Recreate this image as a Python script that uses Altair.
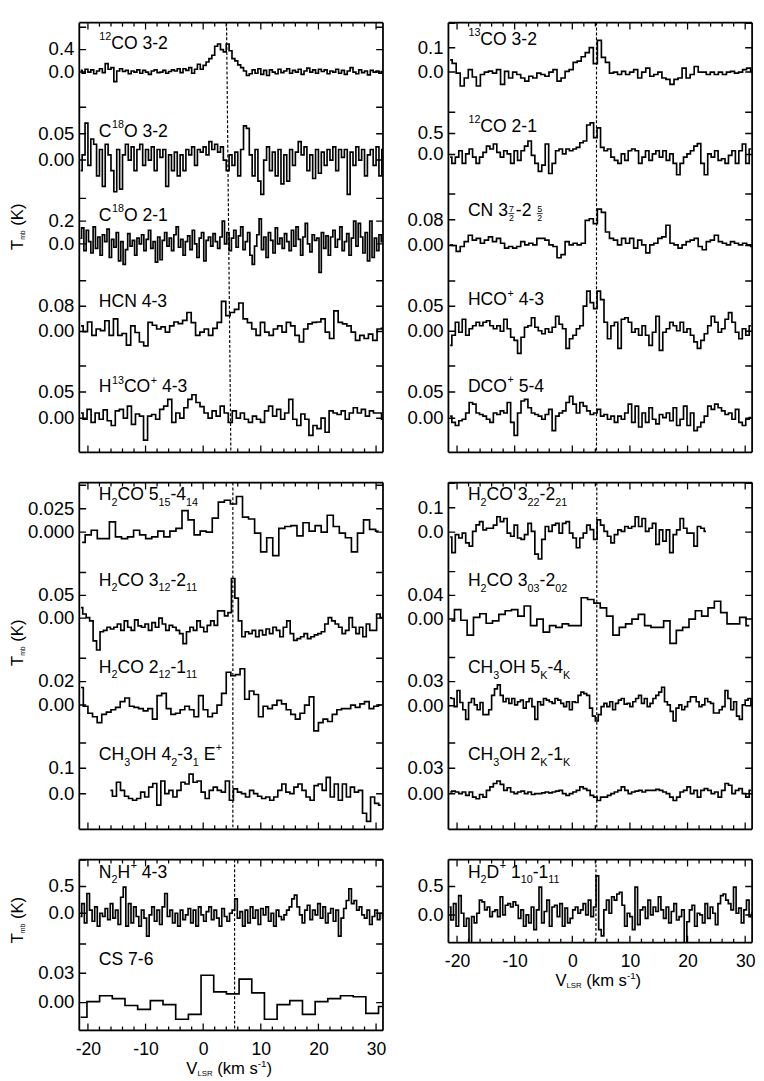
import altair as alt
import pandas as pd

FONT = "Liberation Sans"
XDOM = [-21.5, 31.2]
W = 311
TICK = 7

# ------------------------------------------------------------------ data
# each spectrum: first channel velocity (km/s), channel width (km/s), Tmb values (K)
CO12_32 = dict(v0=-21.25, dv=0.5, vals=[
    0.03, -0.02, 0.05, 0.0, 0.04, -0.03, 0.02, 0.06, -0.01,
    0.15, 0.05, 0.08, -0.17, 0.02, 0.06, 0.01, 0.03, -0.03, 0.02, 0.0, 0.04, -0.02, 0.03, 0.0,
    -0.04, 0.02, 0.04, -0.01, 0.0, 0.03, -0.02, 0.01, 0.04, 0.02, 0.06, -0.01, 0.06, 0.03, 0.08,
    -0.02, 0.05, 0.14, 0.05, 0.12, 0.18, 0.24, 0.3, 0.46, 0.5, 0.4, 0.36, 0.5, 0.38, 0.24, 0.2,
    0.13, 0.08, 0.02, -0.06, -0.03, 0.04, -0.02, 0.06, -0.04, 0.03, -0.06, 0.04, 0.0, -0.03, 0.05,
    -0.01, 0.02, 0.06, -0.02, 0.03, 0.0, 0.05, -0.04, 0.02, 0.07, 0.0, 0.04, -0.02, 0.05, 0.01,
    0.04, -0.03, 0.02, 0.0, 0.05, -0.02, 0.03, -0.04, 0.02, 0.08, 0.0, -0.03, 0.04, -0.01, 0.02,
    -0.05, 0.03, 0.0, 0.02, -0.02, 0.01])
C18O_32 = dict(v0=-21.25, dv=0.5, vals=[
    -0.02, 0.01, 0.07, -0.01, 0.04, 0.03, -0.03, 0.02, -0.05, 0.03, 0.01, -0.02, -0.06, 0.02,
    -0.055, 0.01, 0.03, 0.0, 0.025, -0.02, 0.02, 0.03, -0.01, 0.02, 0.0, 0.025, -0.02, 0.02,
    0.005, 0.02, -0.05, 0.01, -0.02, 0.015, -0.03, 0.01, -0.02, 0.02, 0.01, 0.025, -0.01, 0.02,
    0.015, 0.025, 0.01, 0.035, 0.02, 0.03, 0.015, 0.025, 0.0, -0.02, 0.01, -0.01, 0.015, -0.03,
    0.02, 0.065, 0.06, 0.01, -0.03, 0.02, -0.04, -0.065, 0.0, 0.025, -0.02, 0.015, -0.03, 0.02,
    -0.045, 0.01, -0.04, 0.02, -0.01, 0.015, 0.035, 0.01, 0.025, -0.02, 0.01, -0.035, 0.02,
    -0.025, 0.015, -0.01, 0.02, 0.0, 0.025, -0.02, 0.02, 0.005, 0.02, -0.065, 0.015, -0.01,
    0.025, 0.0, 0.02, -0.03, 0.01, 0.02, -0.01, 0.025, -0.03, 0.02])
C18O_21 = dict(v0=-21.3, dv=0.4, vals=[
    0.05, 0.14, -0.06, 0.12, 0.02, -0.08, 0.15, -0.04, 0.06, -0.1,
    0.08, 0.02, 0.13, -0.12, 0.04, -0.03, 0.1, -0.15, 0.02, -0.18,
    -0.05, 0.09, -0.02, 0.03, -0.1, 0.05, 0.0, 0.08, -0.06, 0.04,
    0.12, -0.04, 0.02, -0.16, 0.06, -0.14, 0.03, 0.1, -0.02, 0.05,
    -0.06, 0.08, 0.15, -0.03, 0.04, -0.1, 0.02, 0.07, -0.05, 0.12,
    0.0, -0.12, 0.05, 0.1, -0.15, 0.03, 0.06, -0.02, 0.09, 0.02,
    -0.04, 0.06, 0.2, 0.0, 0.1, -0.06, 0.05, 0.12, -0.03, 0.07,
    0.15, -0.05, 0.02, 0.1, -0.1, -0.18, -0.02, 0.08, 0.22, -0.05,
    0.06, -0.12, 0.1, 0.03, -0.08, 0.14, 0.0, 0.05, -0.04, 0.09,
    0.02, -0.06, 0.12, -0.02, 0.15, 0.04, -0.1, 0.06, 0.18, 0.0,
    -0.07, 0.08, 0.03, 0.05, -0.25, 0.1, -0.04, 0.07, -0.1, 0.06,
    0.12, -0.03, 0.04, 0.15, -0.06, 0.02, 0.09, -0.1, 0.05, 0.2,
    -0.02, 0.18, 0.06, -0.08, 0.1, -0.15, 0.2, -0.12, 0.05, -0.06, 0.08, 0.02])
HCN_43 = dict(v0=-21.2, dv=0.75, vals=[
    0.018, 0.0, 0.03, -0.012, 0.008, 0.003, 0.034, -0.012, 0.04, -0.012, -0.006, -0.043, 0.018,
    -0.003, -0.033, -0.045, 0.029, 0.02, 0.008, 0.015, -0.002, 0.018, 0.03, 0.025, 0.035, 0.06,
    0.028, -0.012, -0.002, 0.008, -0.012, 0.01, 0.029, 0.095, 0.05, 0.06, 0.07, 0.09, 0.04, 0.028,
    0.008, -0.012, 0.029, -0.002, -0.012, 0.008, 0.018, -0.002, 0.029, 0.018, -0.012, -0.033,
    0.008, 0.024, 0.029, 0.03, 0.04, -0.002, -0.022, 0.065, 0.029, 0.024, 0.018, -0.002, -0.028,
    -0.012, -0.022, -0.008, -0.028, 0.008, 0.01])
H13COP_43 = dict(v0=-21.2, dv=0.7, vals=[
    0.01, -0.002, 0.017, -0.008, 0.01, -0.002, 0.016, -0.005, -0.014, 0.014, 0.017, 0.0, 0.023,
    -0.012, 0.008, 0.004, -0.042, 0.004, 0.007, -0.002, 0.017, 0.023, 0.036, -0.008, 0.01, 0.0,
    0.02, 0.036, 0.045, 0.03, 0.022, 0.01, 0.0, 0.014, 0.004, 0.023, 0.01, -0.008, 0.014, 0.0,
    0.01, -0.002, -0.008, 0.004, -0.002, -0.008, 0.014, 0.023, 0.004, 0.017, -0.002, 0.01, 0.036,
    -0.002, -0.014, 0.008, -0.002, -0.033, -0.014, -0.02, 0.0, -0.027, 0.014, 0.01, 0.007, 0.014,
    -0.002, 0.01, 0.02, 0.01, 0.017, 0.004, 0.014, 0.01, 0.01, -0.002])
CO13_32 = dict(v0=-21.2, dv=0.7, vals=[
    0.05, 0.036, -0.004, -0.057, -0.024, 0.01, -0.02, -0.057, -0.01, 0.0, 0.004, -0.004, 0.01,
    -0.05, 0.003, -0.024, 0.0, -0.01, -0.024, -0.037, -0.017, -0.024, -0.004, -0.01, -0.017, 0.0,
    0.01, -0.037, -0.024, 0.003, 0.01, 0.04, 0.045, 0.063, 0.08, 0.1, 0.035, 0.13, 0.06, 0.04,
    -0.004, 0.0, -0.01, 0.003, -0.01, 0.0, 0.01, -0.024, 0.0, 0.016, -0.017, -0.01, 0.0, -0.024,
    -0.03, -0.05, -0.03, -0.024, 0.016, -0.024, -0.01, 0.023, 0.0, 0.0, -0.01, 0.0, -0.01, 0.0,
    -0.01, 0.0, 0.003, -0.004, 0.0, 0.01, 0.016, 0.003])
CO12_21 = dict(v0=-21.2, dv=0.6, vals=[
    -0.06, -0.21, -0.06, 0.09, -0.21, 0.015, 0.13, -0.06, -0.21, -0.06, 0.05, 0.2, 0.13, 0.25,
    0.05, -0.06, 0.09, 0.015, -0.21, 0.09, -0.14, 0.09, 0.2, 0.32, -0.02, -0.21, -0.4, -0.25,
    0.25, -0.45, -0.21, 0.09, 0.13, 0.015, 0.13, 0.09, 0.13, 0.17, 0.28, 0.32, 0.7, 0.75, 0.4,
    0.63, 0.17, 0.09, 0.13, -0.06, -0.14, -0.21, 0.015, -0.14, 0.09, 0.13, 0.09, -0.21, -0.06,
    0.09, -0.14, 0.015, 0.09, -0.06, 0.09, -0.14, 0.015, -0.21, -0.48, -0.21, -0.06, 0.015, 0.09,
    0.2, 0.26, -0.21, -0.48, 0.015, -0.06, 0.09, -0.14, -0.1, -0.21, -0.02, 0.09, -0.21, 0.09,
    0.25, -0.21, 0.13])
CN_32 = dict(v0=-21.2, dv=0.7, vals=[
    0.002, 0.0, -0.018, -0.003, 0.012, 0.032, 0.017, 0.022, 0.007, 0.017, 0.027, 0.012, 0.022,
    0.007, -0.008, -0.003, -0.008, -0.003, 0.012, 0.002, 0.007, 0.002, 0.022, 0.022, 0.017, 0.002,
    -0.003, -0.038, -0.028, 0.012, 0.002, 0.007, 0.002, 0.007, 0.078, 0.083, 0.068, 0.113, 0.103,
    0.042, 0.022, 0.017, 0.002, 0.022, 0.007, 0.022, -0.008, 0.017, 0.002, -0.023, 0.002, 0.007,
    0.022, 0.027, 0.063, 0.007, 0.002, -0.008, 0.002, 0.012, 0.017, 0.022, -0.003, -0.013, 0.012,
    0.017, 0.032, 0.012, 0.007, 0.002, 0.012, 0.007, 0.002, 0.007, 0.002, -0.003])
HCOP_43 = dict(v0=-21.2, dv=0.6, vals=[
    -0.028, -0.008, 0.018, -0.002, 0.024, -0.008, 0.005, 0.011, 0.018, 0.011, 0.018, 0.021,
    0.011, 0.005, 0.011, 0.0, 0.024, 0.005, -0.012, -0.018, -0.044, -0.012, 0.008, 0.011, 0.027,
    0.008, 0.001, -0.005, 0.005, -0.002, 0.008, 0.03, 0.014, 0.005, -0.034, -0.015, -0.008, 0.005,
    0.011, 0.05, 0.08, 0.057, 0.045, 0.08, 0.063, 0.018, -0.015, 0.011, 0.018, -0.034, 0.024,
    0.027, 0.018, -0.002, 0.005, -0.008, 0.011, -0.008, -0.028, -0.002, 0.03, -0.038, -0.002,
    0.005, 0.018, 0.011, 0.001, 0.018, -0.002, 0.005, -0.008, -0.021, -0.034, -0.018, -0.005,
    0.011, 0.03, 0.018, -0.002, 0.005, 0.024, 0.037, 0.018, -0.002, -0.015, 0.005, -0.008, 0.011])
DCOP_54 = dict(v0=-21.2, dv=0.6, vals=[
    0.004, -0.008, -0.014, -0.005, -0.002, 0.01, 0.03, 0.027, 0.01, 0.007, 0.004, -0.002, -0.008,
    0.01, 0.007, 0.014, 0.01, 0.03, -0.008, -0.033, 0.01, 0.033, 0.036, 0.02, 0.01, 0.007, 0.004,
    -0.002, 0.007, 0.017, -0.024, 0.004, 0.01, 0.014, 0.03, 0.042, 0.027, 0.01, 0.03, 0.023,
    0.014, 0.007, 0.01, 0.017, 0.004, 0.007, -0.002, 0.004, -0.008, 0.004, -0.002, 0.01, 0.027,
    -0.008, 0.023, -0.017, 0.01, -0.008, 0.02, -0.002, -0.011, 0.007, 0.001, 0.01, -0.005, 0.02,
    -0.014, -0.002, 0.023, -0.014, 0.01, -0.024, -0.017, -0.008, 0.004, 0.023, 0.017, 0.027,
    0.02, 0.014, 0.007, 0.01, -0.002, 0.017, -0.008, -0.014, -0.002, 0.001])
H2CO_515 = dict(v0=-21.0, dv=1.05, vals=[
    -0.011, -0.003, 0.002, -0.007, -0.007, 0.011, -0.005, -0.007, -0.005, 0.002, -0.003, -0.007,
    -0.005, 0.001, -0.005, 0.001, 0.004, 0.023, 0.013, -0.003, 0.001, 0.0, 0.015, 0.032, 0.034,
    0.03, 0.038, 0.016, 0.014, -0.001, -0.021, -0.006, -0.025, 0.004, 0.006, 0.007, -0.004, 0.01,
    0.001, 0.007, 0.0, 0.018, 0.006, -0.001, -0.006, -0.021, -0.001, 0.013, 0.003, 0.001])
H2CO_312 = dict(v0=-21.2, dv=0.6, vals=[
    0.023, 0.009, 0.001, -0.006, -0.05, -0.07, -0.03, -0.027, -0.02, -0.024, -0.02, -0.013,
    -0.027, -0.006, -0.02, -0.027, -0.004, -0.017, -0.02, -0.013, -0.027, -0.01, -0.02, 0.0,
    -0.013, -0.027, -0.016, -0.02, -0.027, -0.034, -0.056, -0.03, -0.02, -0.027, -0.006, -0.02,
    -0.03, -0.016, -0.006, -0.016, 0.016, 0.016, 0.005, 0.012, 0.087, 0.044, -0.006, -0.041,
    -0.03, -0.034, -0.027, -0.041, -0.027, -0.037, -0.024, -0.034, -0.02, -0.027, -0.041, -0.02,
    -0.006, -0.034, -0.049, -0.045, -0.041, -0.034, -0.045, -0.041, -0.037, -0.034, -0.03,
    -0.013, 0.001, -0.006, -0.013, -0.02, -0.034, -0.027, 0.001, -0.02, -0.034, -0.02, -0.041,
    -0.013, -0.027, -0.027, 0.009, 0.001, 0.034])
H2CO_212 = dict(v0=-21.2, dv=0.8, vals=[
    0.015, -0.001, -0.007, -0.01, -0.015, -0.008, -0.006, -0.004, -0.002, 0.003, 0.006, -0.001,
    -0.002, -0.003, -0.005, -0.003, -0.012, 0.008, 0.01, -0.003, -0.008, -0.007, -0.004, -0.001,
    -0.004, -0.01, 0.008, -0.004, -0.01, -0.007, 0.0, 0.01, 0.028, 0.025, 0.026, 0.031, 0.005,
    0.012, 0.009, -0.01, -0.001, -0.003, 0.0, 0.004, 0.001, -0.004, -0.008, -0.012, -0.007, 0.0,
    0.007, -0.022, -0.015, -0.012, -0.014, -0.008, -0.004, -0.003, -0.003, 0.0, -0.002, 0.001,
    0.003, -0.003, -0.001, 0.0])
CH3OH_42 = dict(v0=-16.1, dv=0.7, vals=[
    0.013, -0.01, 0.045, 0.013, -0.01, -0.019, -0.026, -0.019, 0.006, -0.013, 0.026, 0.04,
    -0.045, 0.05, 0.0, 0.013, -0.013, 0.013, 0.045, 0.038, 0.077, 0.045, 0.05, 0.006, -0.019,
    0.013, 0.026, 0.013, 0.006, 0.05, -0.026, 0.019, 0.006, 0.0, -0.013, 0.013, 0.0, -0.01,
    -0.019, -0.013, -0.026, -0.013, 0.013, 0.038, 0.006, 0.0, 0.026, 0.038, 0.013, -0.013,
    -0.026, 0.032, 0.038, 0.013, 0.064, -0.013, 0.038, -0.026, 0.038, -0.013, 0.026, 0.006,
    0.013, -0.077, -0.109, -0.013, -0.038, -0.045])
H2CO_322 = dict(v0=-21.2, dv=0.6, vals=[
    -0.02, -0.084, -0.01, -0.024, -0.004, -0.044, -0.057, 0.003, 0.03, 0.043, 0.009, 0.016,
    0.016, 0.029, 0.063, 0.043, 0.056, -0.004, -0.017, 0.029, -0.024, -0.03, -0.01, 0.036,
    0.003, -0.09, -0.11, -0.03, 0.023, 0.003, 0.029, 0.036, -0.004, 0.036, 0.043, -0.004,
    -0.024, -0.064, -0.024, -0.004, 0.029, 0.01, -0.03, 0.05, 0.029, 0.003, -0.017, -0.044,
    -0.01, 0.009, 0.003, 0.023, 0.016, 0.023, 0.063, 0.023, 0.056, 0.003, 0.016, 0.036, -0.05,
    0.009, -0.037, 0.009, -0.084, -0.01, 0.009, 0.056, 0.016, -0.004, -0.004, -0.057, 0.023,
    0.016, 0.003])
H2CO_303 = dict(v0=-21.0, dv=1.1, vals=[
    -0.003, 0.016, -0.002, -0.027, 0.003, 0.009, -0.007, -0.003, 0.008, 0.014, 0.016, 0.005,
    0.022, -0.011, 0.0, -0.022, -0.011, -0.014, -0.008, -0.011, -0.011, 0.036, 0.033, 0.027,
    0.019, 0.005, -0.027, -0.014, -0.008, 0.0, 0.008, -0.011, -0.014, -0.014, -0.003, -0.041,
    -0.019, -0.014, 0.0, 0.014, 0.005, 0.019, 0.03, 0.011, -0.008, -0.008, 0.003, -0.011])
CH3OH_5K = dict(v0=-21.25, dv=0.5, vals=[
    0.01, 0.009, -0.001, 0.019, 0.004, -0.005, -0.017, 0.004, 0.009, 0.001, -0.005, 0.004,
    -0.011, -0.011, -0.005, 0.013, 0.021, 0.026, 0.013, 0.005, 0.009, 0.003, 0.009, 0.001, 0.005,
    0.007, -0.003, 0.005, 0.009, -0.001, -0.017, 0.005, 0.001, 0.009, 0.007, 0.005, 0.003, 0.009,
    0.007, 0.003, -0.001, 0.005, -0.005, 0.005, 0.004, 0.013, 0.017, 0.015, 0.013, -0.003,
    -0.013, -0.019, -0.011, -0.001, 0.003, -0.001, 0.005, -0.005, 0.003, 0.007, 0.009, 0.002,
    0.003, -0.001, 0.005, 0.009, 0.013, 0.003, 0.009, -0.001, 0.003, 0.009, 0.013, 0.017, 0.023,
    0.005, 0.001, -0.007, -0.019, -0.003, 0.001, -0.005, -0.001, 0.005, 0.011, 0.011, 0.005,
    -0.001, 0.001, 0.009, 0.005, 0.003, -0.009, -0.009, -0.005, -0.001, 0.019, 0.009, -0.005,
    0.005, -0.013, -0.017, 0.001, 0.007, 0.009, 0.001])
CH3OH_2K = dict(v0=-21.2, dv=0.6, vals=[
    0.002, 0.003, 0.002, 0.0, 0.002, -0.002, 0.002, -0.004, -0.006, -0.001, -0.004, 0.004, 0.008,
    0.012, 0.015, 0.011, 0.004, 0.007, 0.002, 0.0, 0.002, 0.003, 0.0, 0.002, -0.001, 0.0, 0.0,
    0.001, 0.002, 0.001, 0.002, 0.003, 0.004, 0.0, -0.002, 0.0, 0.002, 0.004, 0.008, 0.006,
    0.004, -0.002, -0.004, -0.008, -0.004, -0.004, -0.002, 0.0, 0.002, 0.004, 0.008, 0.004, 0.0,
    0.002, 0.003, 0.004, 0.002, 0.004, 0.004, 0.004, 0.005, 0.004, 0.002, 0.0, -0.004, -0.008,
    -0.004, 0.002, 0.004, 0.008, 0.0, 0.004, -0.004, 0.004, 0.006, 0.004, 0.0, 0.002, -0.004,
    0.004, 0.012, 0.01, 0.0, 0.004, 0.006, 0.0, -0.004, 0.004])
N2HP_43 = dict(v0=-21.3, dv=0.45, vals=[
    -0.06, 0.18, -0.18, 0.37, 0.06, -0.15, 0.12, -0.24, 0.0, -0.06, 0.09, -0.12, 0.18, -0.09,
    0.06, -0.21, 0.3, 0.49, -0.24, 0.18, -0.18, 0.12, -0.06, -0.24, 0.06, -0.09, -0.43, -0.03,
    0.12, -0.15, 0.06, -0.21, 0.12, 0.37, -0.06, 0.06, -0.18, 0.0, -0.24, 0.06, -0.12, -0.03,
    0.09, -0.18, 0.06, -0.24, 0.12, -0.03, -0.15, 0.03, 0.12, -0.12, 0.06, -0.09, -0.24, 0.09,
    -0.06, -0.15, 0.0, 0.06, 0.27, -0.09, 0.03, -0.24, 0.06, -0.18, 0.12, -0.09, 0.06, -0.21,
    0.09, -0.03, 0.12, -0.15, 0.0, -0.24, 0.06, -0.06, -0.12, -0.03, 0.06, 0.12, 0.27, 0.34,
    0.12, -0.03, -0.18, 0.06, 0.15, -0.12, 0.06, -0.03, 0.18, -0.09, 0.12, -0.18, 0.0, 0.09,
    -0.15, 0.06, -0.43, -0.09, 0.09, 0.24, 0.46, 0.18, 0.24, 0.06, 0.12, -0.03, -0.09, 0.06,
    -0.21, -0.06, 0.06, -0.12, 0.0, -0.09])
CS_76 = dict(v0=-21.27, dv=2.2, vals=[
    -0.015, 0.001, 0.007, 0.004, -0.003, -0.007, 0.002, -0.002, -0.017, -0.012, 0.028, 0.011,
    0.009, 0.024, 0.01, -0.017, -0.002, 0.002, -0.012, 0.001, 0.004, 0.007, 0.006, -0.011,
    -0.004])
H2DP = dict(v0=-21.3, dv=0.45, vals=[
    0.14, -0.09, 0.2, -0.2, 0.34, 0.03, -0.2, -0.06, -0.6, -0.03, -0.14, 0.03, 0.26, 0.23, 0.09,
    0.14, -0.03, 0.06, 0.09, -0.03, 0.32, 0.0, 0.17, 0.2, 0.14, 0.23, 0.17, -0.06, 0.09, -0.2,
    0.0, -0.14, 0.14, -0.26, 0.09, 0.49, -0.14, 0.06, 0.26, -0.2, 0.14, 0.17, -0.03, 0.2, -0.2,
    0.12, -0.14, -0.06, 0.09, 0.14, 0.03, 0.09, 0.2, 0.0, 0.26, -0.03, 0.14, 0.69, -0.26, -0.37,
    0.09, 0.26, 0.03, 0.32, 0.26, 0.37, 0.4, 0.17, -0.2, 0.03, -0.03, -0.26, 0.49, -0.17, 0.09,
    0.14, -0.06, 0.26, 0.0, 0.14, 0.06, 0.32, 0.09, -0.06, 0.14, -0.14, 0.06, 0.2, -0.09, -0.03,
    0.09, -0.6, -0.12, 0.09, 0.17, -0.2, 0.03, 0.0, -0.14, 0.2, -0.06, 0.14, 0.03, -0.17, 0.2,
    0.34, 0.37, 0.26, 0.2, 0.09, 0.49, 0.03, 0.12, -0.14, 0.09, 0.26, -0.03, 0.03])

# tick step and tick labels of every spectrum
TICKS = {
    "CO12_32": (0.4, ["0.0", "0.4"]), "C18O_32": (0.05, ["0.00", "0.05"]),
    "C18O_21": (0.2, ["0.0", "0.2"]), "HCN_43": (0.08, ["0.00", "0.08"]),
    "H13COP_43": (0.05, ["0.00", "0.05"]), "CO13_32": (0.1, ["0.0", "0.1"]),
    "CO12_21": (0.5, ["0.0", "0.5"]), "CN_32": (0.08, ["0.00", "0.08"]),
    "HCOP_43": (0.05, ["0.00", "0.05"]), "DCOP_54": (0.05, ["0.00", "0.05"]),
    "H2CO_515": (0.025, ["0.000", "0.025"]), "H2CO_312": (0.05, ["0.00", "0.05"]),
    "H2CO_212": (0.02, ["0.00", "0.02"]), "CH3OH_42": (0.1, ["0.0", "0.1"]),
    "H2CO_322": (0.1, ["0.0", "0.1"]), "H2CO_303": (0.04, ["0.00", "0.04"]),
    "CH3OH_5K": (0.03, ["0.00", "0.03"]), "CH3OH_2K": (0.03, ["0.00", "0.03"]),
    "N2HP_43": (0.5, ["0.0", "0.5"]), "CS_76": (0.03, ["0.00", "0.03"]),
    "H2DP": (0.5, ["0.0", "0.5"]),
}
# line names: (text, kind) n=normal, b=subscript, p=superscript, f=stacked fraction
NAMES = {
    "CO12_32": [("12", "p"), ("CO 3-2", "n")],
    "C18O_32": [("C", "n"), ("18", "p"), ("O 3-2", "n")],
    "C18O_21": [("C", "n"), ("18", "p"), ("O 2-1", "n")],
    "HCN_43": [("HCN 4-3", "n")],
    "H13COP_43": [("H", "n"), ("13", "p"), ("CO", "n"), ("+", "p"), (" 4-3", "n")],
    "CO13_32": [("13", "p"), ("CO 3-2", "n")],
    "CO12_21": [("12", "p"), ("CO 2-1", "n")],
    "CN_32": [("CN 3", "n"), ("7/2", "f"), ("-2 ", "n"), ("5/2", "f")],
    "HCOP_43": [("HCO", "n"), ("+", "p"), (" 4-3", "n")],
    "DCOP_54": [("DCO", "n"), ("+", "p"), (" 5-4", "n")],
    "H2CO_515": [("H", "n"), ("2", "b"), ("CO 5", "n"), ("15", "b"), ("-4", "n"), ("14", "b")],
    "H2CO_312": [("H", "n"), ("2", "b"), ("CO 3", "n"), ("12", "b"), ("-2", "n"), ("11", "b")],
    "H2CO_212": [("H", "n"), ("2", "b"), ("CO 2", "n"), ("12", "b"), ("-1", "n"), ("11", "b")],
    "CH3OH_42": [("CH", "n"), ("3", "b"), ("OH 4", "n"), ("2", "b"), ("-3", "n"), ("1", "b"),
                 (" E", "n"), ("+", "p")],
    "H2CO_322": [("H", "n"), ("2", "b"), ("CO 3", "n"), ("22", "b"), ("-2", "n"), ("21", "b")],
    "H2CO_303": [("H", "n"), ("2", "b"), ("CO 3", "n"), ("03", "b"), ("-2", "n"), ("02", "b")],
    "CH3OH_5K": [("CH", "n"), ("3", "b"), ("OH 5", "n"), ("K", "b"), ("-4", "n"), ("K", "b")],
    "CH3OH_2K": [("CH", "n"), ("3", "b"), ("OH 2", "n"), ("K", "b"), ("-1", "n"), ("K", "b")],
    "N2HP_43": [("N", "n"), ("2", "b"), ("H", "n"), ("+", "p"), (" 4-3", "n")],
    "CS_76": [("CS 7-6", "n")],
    "H2DP": [("H", "n"), ("2", "b"), ("D", "n"), ("+", "p"), (" 1", "n"), ("10", "b"),
             ("-1", "n"), ("11", "b")],
}
SPEC = {
    "CO12_32": CO12_32, "C18O_32": C18O_32, "C18O_21": C18O_21, "HCN_43": HCN_43,
    "H13COP_43": H13COP_43, "CO13_32": CO13_32, "CO12_21": CO12_21, "CN_32": CN_32,
    "HCOP_43": HCOP_43, "DCOP_54": DCOP_54, "H2CO_515": H2CO_515, "H2CO_312": H2CO_312,
    "H2CO_212": H2CO_212, "CH3OH_42": CH3OH_42, "H2CO_322": H2CO_322, "H2CO_303": H2CO_303,
    "CH3OH_5K": CH3OH_5K, "CH3OH_2K": CH3OH_2K, "N2HP_43": N2HP_43, "CS_76": CS_76,
    "H2DP": H2DP,
}
# reference velocity (dashed line): value at panel top, value at panel bottom
VREF = {"TL": (4.05, 4.8), "TR": (4.2, 4.2), "ML": (5.15, 5.15), "MR": (4.25, 4.25),
        "BL": (5.45, 5.45), "BR": (4.1, 4.1)}
X_MAJOR = [-20, -10, 0, 10, 20, 30]
X_MINOR = [-18, -16, -14, -12, -8, -6, -4, -2, 2, 4, 6, 8, 12, 14, 16, 18, 22, 24, 26, 28]

# ------------------------------------------------------------------ layout (style)
# per spectrum: zero offset from band top (px), px per tick step, label offset from band top
LAY = {
    "CO12_32": (50.6, 23, 21.6), "C18O_32": (52.7, 27, 24), "C18O_21": (50.5, 23.3, 22.2),
    "HCN_43": (52.3, 26, 21.8), "H13COP_43": (53, 26.7, 21.5),
    "CO13_32": (50.6, 25, 17.5), "CO12_21": (47, 21.6, 19), "CN_32": (52.2, 26.4, 16.5),
    "HCOP_43": (52, 25.7, 20.5), "DCOP_54": (53, 26.7, 20.7),
    "H2CO_515": (50.7, 24, 13.3), "H2CO_312": (50, 23.3, 11.7), "H2CO_212": (50.3, 24, 12),
    "CH3OH_42": (52.3, 26, 13),
    "H2CO_322": (50.7, 25, 13.3), "H2CO_303": (51, 24.3, 11.8), "CH3OH_5K": (51, 24.7, 12.8),
    "CH3OH_2K": (52.3, 26, 13),
    "N2HP_43": (55, 27.3, 13.4), "CS_76": (59, 30, 15),
    "H2DP": (56.7, 29, 13.4),
}
CW = {'C': .722, 'O': .778, 'H': .722, 'N': .722, 'D': .722, 'E': .667, 'S': .667, 'K': .667,
      'V': .667, 'L': .556, 'R': .722, 'T': .611, ' ': .278, '-': .333, '+': .584, '(': .333,
      ')': .333, 'k': .5, 'm': .833, 's': .5, 'b': .556, '/': .278, '.': .278}
ONE = pd.DataFrame({"k": [0]})


def tw(s, size):
    return sum(CW.get(c, 0.556) for c in s) * size


def lead(s):
    return len(s) - len(s.lstrip(" "))


def tmark(txt, x, y, size, angle=None):
    kw = dict(text=txt, align="left", baseline="middle", fontSize=size, font=FONT, color="black")
    if angle is not None:
        kw["angle"] = angle
    return alt.Chart(ONE).mark_text(**kw).encode(x=alt.value(x), y=alt.value(y))


def seg(x1, x2, y1, y2, w=1.8):
    return alt.Chart(ONE).mark_rule(color="black", strokeWidth=w).encode(
        x=alt.value(x1), x2=alt.value(x2), y=alt.value(y1), y2=alt.value(y2))


def name_marks(segs, x0, y0, size=18, small=11):
    out = []
    x = x0
    for txt, k in segs:
        if k == "n":
            out.append(tmark(txt.strip(), x + tw(" " * lead(txt), size), y0, size))
            x += tw(txt, size)
        elif k == "b":
            out.append(tmark(txt, x, y0 + 8, small))
            x += tw(txt, small)
        elif k == "p":
            out.append(tmark(txt, x + 0.5, y0 - 7, small))
            x += tw(txt, small) + 0.5
        else:
            num, den = txt.split("/")
            w = max(tw(num, 9), tw(den, 9)) + 2
            out.append(tmark(num, x + 1, y0 - 2, 9))
            out.append(tmark(den, x + 1, y0 + 8, 9))
            out.append(seg(x + 0.5, x + w - 0.5, y0 + 3, y0 + 3, 0.8))
            x += w + 1
    return out


def ytitle(xc, yc):
    pieces = [("T", 17, 0), ("mb", 7, 5), (" (K)", 17, 0)]
    L = sum(tw(t, s) for t, s, _ in pieces)
    y = yc + L / 2
    out = []
    for t, s, dx in pieces:
        out.append(tmark(t.strip(), xc + dx, y - tw(" " * lead(t), s), s, angle=270))
        y -= tw(t, s)
    return out


def xtitle(xc, yc):
    pieces = [("V", 17, 0), ("LSR", 8, 5), (" (km s", 17, 0), ("-1", 10, -6), (")", 17, 0)]
    L = sum(tw(t, s) for t, s, _ in pieces)
    x = xc - L / 2
    out = []
    for t, s, dy in pieces:
        out.append(tmark(t.strip(), x + tw(" " * lead(t), s), yc + dy, s))
        x += tw(t, s)
    return out


def frame(H):
    return [seg(0, 0, 0, H), seg(W, W, 0, H), seg(0, W, 0, 0), seg(0, W, H, H)]


def panel(key, names, H, xlabels=False, ytitle_y=None):
    n = len(names)
    hb = H / n
    if xlabels:
        xax = alt.Axis(values=X_MAJOR, ticks=False, domain=False, grid=False, labelFontSize=18,
                       labelFont=FONT, labelColor="black", labelPadding=11, labelFlush=False,
                       labelExpr="datum.value < 0 ? '-' + (-datum.value) : '' + datum.value",
                       title=None)
    else:
        xax = None

    def X(f):
        return alt.X(f, type="quantitative",
                     scale=alt.Scale(domain=XDOM, nice=False, zero=False), axis=xax)

    layers = []
    extra = []
    for j, nm in enumerate(names):
        sp = SPEC[nm]
        a, labs = TICKS[nm]
        z, s, lo = LAY[nm]
        top = j * hb
        bot = top + hb
        ysc = alt.Scale(domain=[-(hb - z) / s * a, z / s * a], range=[bot, top],
                        nice=False, zero=False)
        Y = alt.Y("t:Q", scale=ysc, axis=None)
        df = pd.DataFrame({"v": [sp["v0"] + sp["dv"] * i for i in range(len(sp["vals"]))],
                           "t": sp["vals"]})
        line = alt.Chart(df).mark_line(interpolate="step", color="black", strokeWidth=1.7,
                                       clip=True).encode(x=X("v"), y=Y)
        tk = pd.DataFrame({"t": [0, a, 2 * a]})
        lt = alt.Chart(tk).mark_rule(color="black", strokeWidth=1.5, clip=True).encode(
            x=alt.value(0), x2=alt.value(TICK), y=Y)
        rt = alt.Chart(tk).mark_rule(color="black", strokeWidth=1.5, clip=True).encode(
            x=alt.value(W - TICK), x2=alt.value(W), y=Y)
        tl = pd.DataFrame({"t": [0, a], "lab": labs})
        txt = alt.Chart(tl).mark_text(align="right", baseline="middle", fontSize=19, font=FONT,
                                      color="black").encode(x=alt.value(-5), y=Y, text="lab:N")
        layers.append(alt.layer(line, lt, rt, txt))
        extra += name_marks(NAMES[nm], 20, top + lo)

    v1, v2 = VREF[key]
    dash = alt.Chart(pd.DataFrame({"v1": [v1], "v2": [v2]})).mark_rule(
        color="black", strokeWidth=1.2, strokeDash=[3, 2]).encode(
        x=X("v1"), x2=alt.X2("v2"), y=alt.value(0), y2=alt.value(H))
    maj = pd.DataFrame({"v": X_MAJOR})
    mnr = pd.DataFrame({"v": X_MINOR})
    xt = []
    for d, ln in ((maj, 7), (mnr, 4)):
        xt.append(alt.Chart(d).mark_rule(color="black", strokeWidth=1.3).encode(
            x=X("v"), y=alt.value(0), y2=alt.value(ln)))
        xt.append(alt.Chart(d).mark_rule(color="black", strokeWidth=1.3).encode(
            x=X("v"), y=alt.value(H - ln), y2=alt.value(H)))
    if ytitle_y is not None:
        extra += ytitle(-63, ytitle_y)
    if xlabels:
        extra += xtitle(W / 2 - 2, H + 40)
    return alt.layer(*layers, dash, *xt, *frame(H), *extra).resolve_scale(
        y="independent").properties(width=W, height=H)


TL = panel("TL", ["CO12_32", "C18O_32", "C18O_21", "HCN_43", "H13COP_43"], 440, ytitle_y=209)
ML = panel("ML", ["H2CO_515", "H2CO_312", "H2CO_212", "CH3OH_42"], 355, ytitle_y=164)
BL = panel("BL", ["N2HP_43", "CS_76"], 175, xlabels=True, ytitle_y=62)
TR = panel("TR", ["CO13_32", "CO12_21", "CN_32", "HCOP_43", "DCOP_54"], 440)
MR = panel("MR", ["H2CO_322", "H2CO_303", "CH3OH_5K", "CH3OH_2K"], 355)
BR = panel("BR", ["H2DP"], 85, xlabels=True)

left = alt.vconcat(TL, ML, BL, spacing=27)
right = alt.vconcat(TR, MR, BR, spacing=27)
chart = alt.hconcat(left, right, spacing=20).properties(padding=0).configure_view(
    stroke=None).configure(background="white")

chart.save("out.html", embed_options={"renderer": "svg", "actions": False})
